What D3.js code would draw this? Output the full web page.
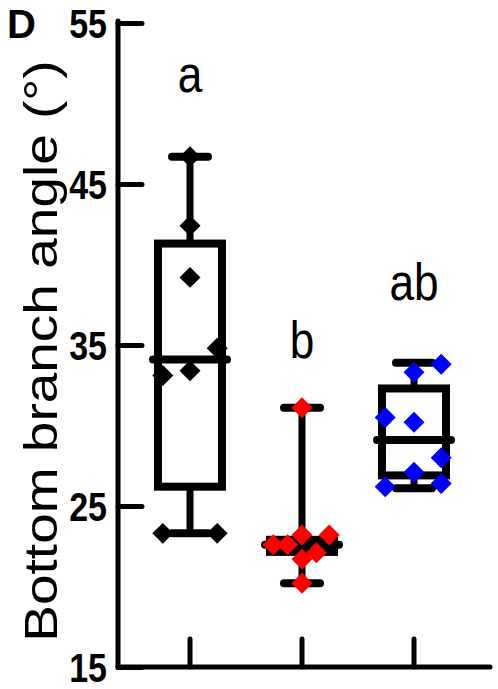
<!DOCTYPE html>
<html>
<head>
<meta charset="utf-8">
<script src="https://cdn.jsdelivr.net/npm/d3@7"></script>
<style>
  body { margin: 0; background: #fff; }
  svg { display: block; }
</style>
</head>
<body>
<div id="chart"></div>
<script>
// groups and their colours
var groups = ["CK", "M1", "M2"];
var colors = ["#000000", "#ff0000", "#0000ff"];
var letters = ["a", "b", "ab"];
var yTicks = [15, 25, 35, 45, 55];

// box statistics
var mins    = [23.3, 20.2, 26.1];
var q1s     = [26.2, 22.15, 26.9];
var medians = [34.1, 22.6, 29.1];
var q3s     = [41.3, 22.9, 32.3];
var maxs    = [46.7, 31.1, 33.9];

// individual points per group
var pointsCK = [46.7, 42.4, 39.2, 34.8, 33.4, 33.1, 23.3, 23.3];
var pointsM1 = [31.1, 23.2, 23.2, 22.6, 22.6, 22.1, 21.7, 20.2];
var pointsM2 = [33.8, 33.3, 30.5, 30.2, 28.0, 27.1, 26.4, 26.2];
// horizontal jitter of each point, in fraction of box half width
var jitterCK = [0, 0, 0, 0.85, 0, -0.85, -0.85, 0.85];
var jitterM1 = [0, 0, 0.85, -0.9, -0.45, 0.45, 0, 0];
var jitterM2 = [0.85, 0, -0.9, 0, 0.85, 0, 0.85, -0.9];

var allPoints = [pointsCK, pointsM1, pointsM2];
var allJitter = [jitterCK, jitterM1, jitterM2];

var W = 498, H = 689;
var svg = d3.select("#chart").append("svg")
  .attr("width", W).attr("height", H);

var y = d3.scaleLinear().domain([15, 55]).range([667, 23]);
var x = d3.scaleBand().domain(groups).range([134, 470]);
var cx = function(g) { return x(g) + x.bandwidth() / 2; };
var halfBox = 32;
var squeeze = 0.85;

// y axis
var yAxis = d3.axisLeft(y).tickValues(yTicks).tickSizeInner(-24).tickSizeOuter(0).tickPadding(11);
var yG = svg.append("g").attr("transform", "translate(118,0)").call(yAxis);
yG.attr("font-size", null).attr("font-family", null);
yG.select(".domain").remove();
yG.selectAll(".tick line").attr("stroke", "#000").attr("stroke-width", 5).attr("stroke-linecap", "round");
yG.selectAll(".tick text")
  .attr("fill", "#000")
  .attr("x", -11 / squeeze)
  .attr("dy", "0.36em")
  .attr("transform", "scale(" + squeeze + ",1)")
  .attr("font-family", "'Liberation Sans', Arial, sans-serif")
  .attr("font-weight", "bold")
  .attr("font-size", 40);
svg.append("line")
  .attr("x1", 118).attr("x2", 118)
  .attr("y1", y(55) - 2).attr("y2", y(15))
  .attr("stroke", "#000").attr("stroke-width", 5).attr("stroke-linecap", "round");

// x axis
var xAxis = d3.axisBottom(x).tickSizeInner(-28).tickSizeOuter(0).tickPadding(9);
var xG = svg.append("g").attr("transform", "translate(0,667)").call(xAxis);
xG.attr("font-size", null).attr("font-family", null);
xG.select(".domain").remove();
xG.selectAll(".tick line").attr("stroke", "#000").attr("stroke-width", 5).attr("stroke-linecap", "round");
xG.selectAll(".tick text")
  .attr("fill", "#000")
  .attr("y", 46)
  .attr("font-family", "'Liberation Sans', Arial, sans-serif")
  .attr("font-weight", "bold")
  .attr("font-size", 34);
svg.append("line")
  .attr("x1", 118).attr("x2", 490)
  .attr("y1", 667).attr("y2", 667)
  .attr("stroke", "#000").attr("stroke-width", 5).attr("stroke-linecap", "round");

// boxes
groups.forEach(function(g, i) {
  var c = cx(g);
  var bg = svg.append("g");
  // whiskers
  bg.append("line").attr("x1", c).attr("x2", c).attr("y1", y(maxs[i])).attr("y2", y(q3s[i]))
    .attr("stroke", "#000").attr("stroke-width", 7);
  bg.append("line").attr("x1", c).attr("x2", c).attr("y1", y(q1s[i])).attr("y2", y(mins[i]))
    .attr("stroke", "#000").attr("stroke-width", 7);
  [maxs[i], mins[i]].forEach(function(v) {
    bg.append("line").attr("x1", c - 18).attr("x2", c + 18).attr("y1", y(v)).attr("y2", y(v))
      .attr("stroke", "#000").attr("stroke-width", 8).attr("stroke-linecap", "round");
  });
  bg.append("rect")
    .attr("x", c - halfBox).attr("width", halfBox * 2)
    .attr("y", y(q3s[i])).attr("height", y(q1s[i]) - y(q3s[i]))
    .attr("fill", "none").attr("stroke", "#000").attr("stroke-width", 8);
  bg.append("line").attr("x1", c - 37).attr("x2", c + 37)
    .attr("y1", y(medians[i])).attr("y2", y(medians[i]))
    .attr("stroke", "#000").attr("stroke-width", 8).attr("stroke-linecap", "round");

  // points
  var diamond = d3.symbol().type(d3.symbolSquare).size(220);
  bg.selectAll("path.pt").data(allPoints[i]).enter().append("path")
    .attr("class", "pt")
    .attr("d", diamond)
    .attr("transform", function(d, j) {
      return "translate(" + (c + allJitter[i][j] * halfBox) + "," + y(d) + ") rotate(45)";
    })
    .attr("fill", colors[i]);

  // significance letter
  var ly = [92, 358, 300][i];
  svg.append("text")
    .attr("transform", "translate(" + c + "," + ly + ") scale(0.85,1)")
    .attr("text-anchor", "middle")
    .style("font-family", "'Liberation Sans', Arial, sans-serif")
    .style("font-size", "52px")
    .text(letters[i]);
});

// y title
svg.append("text")
  .attr("transform", "translate(57,351) rotate(-90) scale(1,0.85)")
  .attr("text-anchor", "middle")
  .style("font-family", "'Liberation Sans', Arial, sans-serif")
  .style("font-size", "55px")
  .text("Bottom branch angle (°)");

// panel letter
svg.append("text")
  .attr("x", 7).attr("y", 38)
  .style("font-family", "'Liberation Sans', Arial, sans-serif")
  .style("font-weight", "bold")
  .style("font-size", "40px")
  .text("D");
</script>
</body>
</html>
